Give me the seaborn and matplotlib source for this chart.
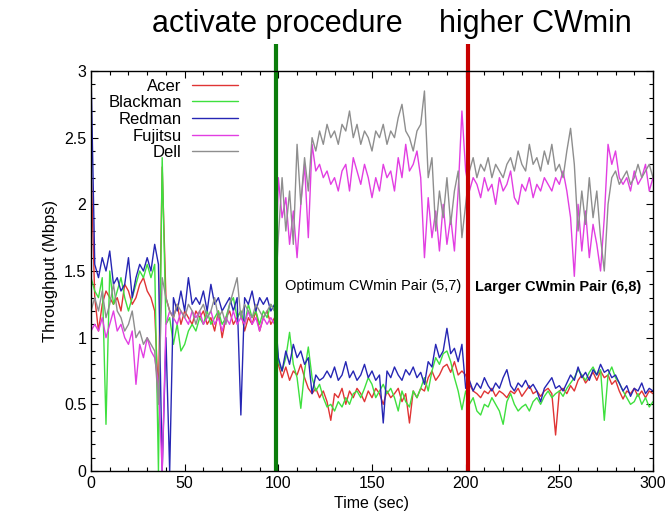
import matplotlib as mpl
import matplotlib.pyplot as plt
import numpy as np
import pandas as pd
import seaborn as sns
from matplotlib.ticker import MultipleLocator, FuncFormatter

sns.set_style('ticks', {'axes.edgecolor': 'black', 'text.color': 'black', 'axes.labelcolor': 'black',
                        'xtick.color': 'black', 'ytick.color': 'black'})
plt.rcParams['font.family'] = ['Liberation Sans', 'DejaVu Sans']

# samples every 2 s, 0..300
time = np.arange(0, 301, 2)

acer = [2.3, 1.3, 1.05, 1.25, 1.35, 1.3, 1.25, 1.3, 1.2, 1.4, 1.35, 1.25, 1.3, 1.4, 1.45, 1.35, 1.3, 1.2, 0.55, 2.28,
        1.3, 1.2, 1.15, 1.25, 1.1, 1.2, 1.15, 1.1, 1.2, 1.15, 1.2, 1.1, 1.15, 1.05, 1.2, 1.0, 1.15, 1.2, 1.1, 1.15,
        1.2, 1.05, 1.15, 1.1, 1.2, 1.05, 1.15, 1.2, 1.1, 1.15,
        0.8, 0.7, 0.78, 0.68, 0.75, 0.72, 0.8, 0.7, 0.62, 0.58, 0.62, 0.55, 0.6, 0.52, 0.38, 0.58, 0.55, 0.62, 0.5, 0.6,
        0.55, 0.62, 0.58, 0.52, 0.6, 0.55, 0.62, 0.58, 0.5, 0.6, 0.55, 0.58, 0.62, 0.52, 0.58, 0.36, 0.6, 0.55, 0.62, 0.6,
        0.7, 0.75, 0.68, 0.72, 0.78, 0.8, 0.74, 0.82, 0.72, 0.75,
        0.72, 0.65, 0.6, 0.58, 0.55, 0.6, 0.58, 0.62, 0.56, 0.6, 0.58, 0.55, 0.6, 0.58, 0.62, 0.56, 0.6, 0.64, 0.58, 0.6,
        0.56, 0.6, 0.62, 0.58, 0.27, 0.6, 0.62, 0.58, 0.64, 0.6, 0.68, 0.72, 0.66, 0.7, 0.74, 0.68, 0.75, 0.7, 0.72, 0.65,
        0.68, 0.6, 0.54, 0.6, 0.58, 0.62, 0.56, 0.6, 0.55, 0.6, 0.58]

blackman = [1.45, 1.35, 1.3, 1.45, 0.35, 1.5, 1.25, 1.35, 1.45, 1.3, 1.2, 1.3, 1.4, 1.5, 1.45, 1.55, 1.45, 1.55, 0.0, 2.35,
            1.1, 1.15, 0.95, 1.1, 0.9, 0.95, 1.05, 1.1, 1.05, 1.15, 1.1, 1.2, 1.1, 1.15, 1.2, 1.1, 1.15, 1.25, 1.3, 1.15,
            1.2, 1.1, 1.25, 1.15, 1.2, 1.1, 1.2, 1.15, 1.25, 1.2,
            0.82, 0.75, 0.85, 1.04, 0.8, 0.7, 0.47, 0.75, 0.93, 0.7, 0.6, 0.65, 0.55, 0.48, 0.5, 0.45, 0.52, 0.48, 0.55, 0.5,
            0.58, 0.6, 0.55, 0.62, 0.7, 0.65, 0.55, 0.6, 0.65, 0.58, 0.62, 0.55, 0.45, 0.6, 0.52, 0.48, 0.6, 0.55, 0.62, 0.7,
            0.6, 0.75, 0.85, 0.8, 0.88, 0.9, 0.82, 0.7, 0.6, 0.46,
            0.6, 0.5, 0.55, 0.45, 0.42, 0.5, 0.48, 0.55, 0.5, 0.45, 0.35, 0.52, 0.58, 0.5, 0.45, 0.48, 0.5, 0.45, 0.52, 0.55,
            0.5, 0.56, 0.6, 0.55, 0.58, 0.6, 0.56, 0.62, 0.66, 0.7, 0.76, 0.72, 0.68, 0.74, 0.78, 0.72, 0.76, 0.38, 0.72, 0.78,
            0.7, 0.66, 0.6, 0.55, 0.5, 0.52, 0.58, 0.5, 0.55, 0.48, 0.52]

redman = [3.0, 1.55, 1.45, 1.6, 1.5, 1.65, 1.4, 1.45, 1.35, 1.4, 1.6, 1.3, 1.45, 1.55, 1.5, 1.6, 1.5, 1.7, 1.55, 0.0,
          1.0, 0.0, 1.3, 1.2, 1.35, 1.2, 1.45, 1.25, 1.3, 1.25, 1.35, 1.2, 1.4, 1.25, 1.3, 1.2, 1.25, 1.3, 1.2, 1.3,
          0.42, 1.3, 1.25, 1.35, 1.2, 1.3, 1.25, 1.3, 1.2, 1.25,
          0.85, 0.75, 0.9, 0.8, 0.95, 0.85, 0.9, 0.8, 0.85, 0.58, 0.72, 0.68, 0.7, 0.75, 0.7, 0.78, 0.68, 0.72, 0.82, 0.7,
          0.75, 0.68, 0.72, 0.8, 0.7, 0.75, 0.68, 0.72, 0.36, 0.75, 0.7, 0.78, 0.72, 0.68, 0.76, 0.72, 0.78, 0.7, 0.74, 0.65,
          0.82, 0.78, 0.95, 0.85, 0.9, 1.07, 0.88, 0.92, 0.82, 0.95,
          0.62, 0.68, 0.6, 0.66, 0.62, 0.7, 0.64, 0.6, 0.66, 0.62, 0.7, 0.76, 0.64, 0.6, 0.66, 0.63, 0.68, 0.62, 0.65, 0.6,
          0.52, 0.62, 0.66, 0.7, 0.62, 0.64, 0.6, 0.66, 0.72, 0.68, 0.78, 0.7, 0.74, 0.68, 0.76, 0.72, 0.8, 0.74, 0.76, 0.7,
          0.72, 0.66, 0.6, 0.64, 0.56, 0.62, 0.6, 0.66, 0.58, 0.62, 0.6]

fujitsu = [1.05, 1.1, 1.05, 1.15, 1.0, 1.1, 1.2, 1.05, 1.1, 1.0, 0.95, 1.05, 0.65, 0.95, 0.85, 1.0, 0.9, 0.85, 0.65, 0.0,
           1.1, 1.2, 1.15, 1.1, 1.2, 1.15, 1.1, 1.2, 1.15, 1.2, 1.1, 1.15, 1.2, 1.1, 1.15, 1.05, 1.15, 1.1, 1.2, 1.1,
           1.15, 1.1, 1.2, 1.1, 1.15, 1.05, 1.15, 1.1, 1.15, 1.1,
           2.2, 1.9, 2.05, 1.7, 1.95, 1.6, 2.0, 2.3, 1.75, 2.45, 2.25, 2.3, 2.2, 2.25, 2.15, 2.2, 2.1, 2.25, 2.3, 2.1,
           2.35, 2.25, 2.15, 2.3, 2.2, 2.05, 2.2, 2.1, 2.3, 2.2, 2.25, 2.1, 2.35, 2.2, 2.45, 2.25, 2.3, 2.4, 2.2, 1.6,
           2.05, 1.75, 1.95, 1.65, 2.0, 1.7, 1.9, 1.65, 2.1, 2.7,
           2.25, 2.1, 2.2, 2.15, 2.05, 2.2, 2.1, 2.15, 2.0, 2.2, 2.1, 2.15, 2.25, 2.05, 2.0, 2.15, 2.1, 2.2, 2.05, 2.15,
           2.1, 2.2, 2.15, 2.1, 2.2, 2.15, 2.25, 2.1, 1.9, 1.46, 2.0, 1.65, 1.95, 1.6, 1.85, 1.7, 1.5, 1.9, 2.45, 2.3,
           2.4, 2.2, 2.15, 2.2, 2.1, 2.25, 2.15, 2.2, 2.3, 2.1, 2.2]

dell = [1.2, 1.3, 1.2, 1.35, 1.15, 1.25, 1.4, 1.2, 1.15, 1.05, 1.1, 1.2, 1.0, 1.05, 0.95, 1.0, 0.95, 0.9, 0.5, 1.45,
        1.3, 1.2, 1.15, 1.25, 1.2, 1.15, 1.25, 1.2, 1.1, 1.2, 1.25, 1.15, 1.2, 1.3, 1.15, 1.2, 1.1, 1.25, 1.35, 1.45,
        1.15, 1.25, 1.2, 1.15, 1.25, 1.2, 1.15, 1.2, 1.25, 1.2,
        1.75, 2.2, 1.8, 2.1, 1.7, 2.45, 2.0, 2.35, 2.1, 2.5, 2.4, 2.55, 2.45, 2.6, 2.5, 2.55, 2.45, 2.6, 2.55, 2.7,
        2.5, 2.6, 2.45, 2.55, 2.5, 2.4, 2.55, 2.5, 2.6, 2.45, 2.55, 2.5, 2.65, 2.75, 2.55, 2.5, 2.4, 2.55, 2.6, 2.85,
        2.2, 2.35, 1.8, 2.1, 1.9, 2.2, 1.85, 2.1, 2.25, 1.75,
        2.0, 2.25, 2.35, 2.2, 2.3, 2.25, 2.35, 2.2, 2.3, 2.25, 2.2, 2.3, 2.35, 2.25, 2.4, 2.3, 2.25, 2.45, 2.3, 2.35,
        2.25, 2.4, 2.3, 2.45, 2.25, 2.3, 2.2, 2.4, 2.57, 2.3, 1.8, 2.1, 1.85, 2.2, 1.9, 2.1, 1.75, 1.5, 2.0, 2.2,
        2.25, 2.15, 2.2, 2.25, 2.15, 2.2, 2.3, 2.2, 2.25, 2.3, 2.2]

devices = ['Acer', 'Blackman', 'Redman', 'Fujitsu', 'Dell']
colors = ['#e03434', '#3ee03e', '#2626b4', '#e23ee2', '#8e8e8e']
events = [99, 201]
event_colors = ['#0b7d0b', '#c80000']
event_labels = ['activate procedure', 'higher CWmin']

series = [acer, blackman, redman, fujitsu, dell]
df = pd.concat([pd.DataFrame({'Time': time, 'Throughput': s, 'Device': d})
                for d, s in zip(devices, series)])

fig = plt.figure(figsize=(6.65, 5.27), dpi=100)
ax = fig.add_axes([91 / 665, 1 - 471 / 527, 562 / 665, 400 / 527])

sns.lineplot(data=df, x='Time', y='Throughput', hue='Device', hue_order=devices,
             palette=colors, linewidth=1.0, ax=ax)

ax.set_xlim(0, 300)
ax.set_ylim(0, 3)
ax.xaxis.set_major_locator(MultipleLocator(50))
ax.xaxis.set_minor_locator(MultipleLocator(10))
ax.yaxis.set_major_locator(MultipleLocator(0.5))
ax.yaxis.set_minor_locator(MultipleLocator(0.1))
ax.yaxis.set_major_formatter(FuncFormatter(lambda v, p: f'{v:g}'))
ax.tick_params(which='both', direction='in', top=True, right=True, labelsize=11.5, width=0.8)
ax.tick_params(which='major', length=5)
ax.tick_params(which='minor', length=3)
for sp in ax.spines.values():
    sp.set_linewidth(1.0)
ax.set_xlabel('Time (sec)', fontsize=11.5)
ax.set_ylabel('Throughput (Mbps)', fontsize=12)

# event markers sticking out above the axes
for x, c in zip(events, event_colors):
    ax.plot([x, x], [0, 3.2], color=c, lw=3, clip_on=False, solid_capstyle='butt')
fig.text(277 / 665, 1 - 24 / 527, event_labels[0], ha='center', va='center', fontsize=22)
fig.text(535 / 665, 1 - 24 / 527, event_labels[1], ha='center', va='center', fontsize=22)

ax.text(103.5, 1.39, 'Optimum CWmin Pair (5,7)', fontsize=10.5, va='center')
ax.text(205, 1.38, 'Larger CWmin Pair (6,8)', fontsize=10.5, fontweight='bold', va='center')

ax.legend(loc='upper left', bbox_to_anchor=(0.01, 1.01), frameon=False, markerfirst=False,
          fontsize=12, handlelength=2.8, handletextpad=0.6, labelspacing=0.1, borderpad=0.2)

plt.savefig('out.png', dpi=100, facecolor='w')
